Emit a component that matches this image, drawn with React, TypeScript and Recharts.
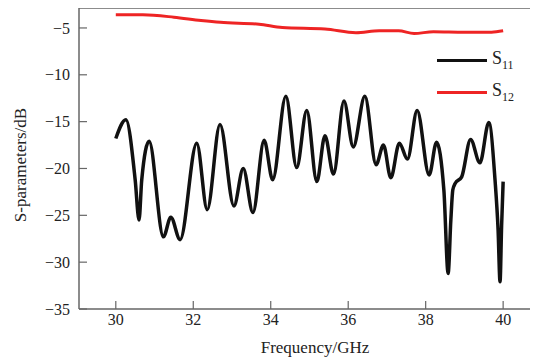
import { LineChart, Line, XAxis, YAxis, ReferenceLine, Label } from "recharts";

const s11Freq = [
  30.0, 30.26, 30.5, 30.6, 30.67, 30.86, 31.23, 31.42, 31.66, 32.09, 32.36,
  32.69, 33.05, 33.29, 33.54, 33.83, 34.05, 34.39, 34.67, 34.93, 35.19, 35.4,
  35.62, 35.89, 36.13, 36.43, 36.72, 36.91, 37.1, 37.32, 37.53, 37.78, 38.09,
  38.28, 38.47, 38.58, 38.65, 38.7, 38.76, 38.93, 39.16, 39.4, 39.63, 39.79,
  39.87, 39.92, 39.96, 40.0,
];
const s11Values = [
  -16.8, -14.8, -21.2, -25.5, -21.2, -17.1, -27.3, -25.2, -27.6, -17.3, -24.4,
  -15.3, -24.0, -20.0, -24.7, -17.0, -21.2, -12.3, -19.9, -13.8, -21.4, -16.5,
  -20.6, -12.8, -17.7, -12.3, -19.6, -17.5, -21.0, -17.3, -19.0, -13.8, -20.7,
  -17.2, -22.3, -31.2, -25.5, -22.3, -21.6, -20.9, -16.9, -19.4, -15.1, -21.2,
  -26.6, -32.1, -26.2, -21.4,
];

const s12Freq = [
  30.0, 30.7, 31.5, 32.2, 32.7, 33.7, 34.3, 35.4, 36.2, 36.8, 37.3, 37.7, 38.2,
  39.0, 39.7, 40.0,
];
const s12Values = [
  -3.6, -3.6, -3.85, -4.2, -4.4, -4.6, -4.95, -5.1, -5.5, -5.3, -5.3, -5.6,
  -5.4, -5.45, -5.45, -5.3,
];

const xTicks = [30, 32, 34, 36, 38, 40];
const yTicks = [-35, -30, -25, -20, -15, -10, -5];

const s11Data = s11Freq.map((f, i) => ({ f, v: s11Values[i] }));
const s12Data = s12Freq.map((f, i) => ({ f, v: s12Values[i] }));

const FONT = '"Liberation Serif", "Times New Roman", serif';
const AXIS = "#666";
const TOP = -2.87;

const minus = (v: number) => (v < 0 ? "\u2212" + Math.abs(v) : String(v));

function LegendRow({ color, sub }: { color: string; sub: string }) {
  return (
    <div style={{ display: "flex", alignItems: "center", height: 32 }}>
      <div style={{ width: 50, height: 3, background: color, marginRight: 5 }} />
      <span style={{ fontSize: 18, color: "#222" }}>
        S<sub style={{ fontSize: 12 }}>{sub}</sub>
      </span>
    </div>
  );
}

export default function App() {
  return (
    <div style={{ position: "relative", width: 530, height: 350, fontFamily: FONT }}>
      <style>{`.recharts-surface text, .recharts-text { font-family: ${FONT}; }`}</style>
      <LineChart
        width={530}
        height={350}
        margin={{ top: 0, right: 0, bottom: 0, left: 0 }}
      >
        <XAxis
          dataKey="f"
          type="number"
          domain={[29.05, 40.9]}
          ticks={xTicks}
          allowDataOverflow
          height={49}
          tickSize={-8}
          tickMargin={13}
          axisLine={{ stroke: AXIS, strokeWidth: 1.5 }}
          tickLine={{ stroke: AXIS, strokeWidth: 1.2 }}
          tick={{ fill: "#222", fontSize: 16, fontFamily: FONT }}
        >
          <Label
            content={() => (
              <text
                x={307}
                y={345}
                textAnchor="middle"
                fill="#222"
                fontSize={17}
                fontFamily={FONT}
              >
                Frequency/GHz
              </text>
            )}
          />
        </XAxis>
        <YAxis
          type="number"
          domain={[-35, TOP]}
          ticks={yTicks}
          allowDataOverflow
          width={71}
          tickSize={-8}
          tickMargin={17}
          tickFormatter={minus}
          axisLine={{ stroke: AXIS, strokeWidth: 1.5 }}
          tickLine={{ stroke: AXIS, strokeWidth: 1.2 }}
          tick={{ fill: "#222", fontSize: 16, fontFamily: FONT }}
        >
          <Label
            content={() => (
              <text
                x={12}
                y={157}
                transform="rotate(-90 12 157)"
                textAnchor="middle"
                dominantBaseline="central"
                fill="#222"
                fontSize={17}
                fontFamily={FONT}
              >
                S-parameters/dB
              </text>
            )}
          />
        </YAxis>
        <ReferenceLine y={TOP} stroke={AXIS} strokeWidth={1.5} />
        <Line
          data={s12Data}
          dataKey="v"
          type="monotone"
          stroke="#ee2424"
          strokeWidth={3}
          dot={false}
          isAnimationActive={false}
        />
        <Line
          data={s11Data}
          dataKey="v"
          type="monotone"
          stroke="#111"
          strokeWidth={3.5}
          dot={false}
          isAnimationActive={false}
        />
      </LineChart>
      <div style={{ position: "absolute", left: 429, top: 36 }}>
        <LegendRow color="#111" sub="11" />
        <LegendRow color="#ee2424" sub="12" />
      </div>
    </div>
  );
}
